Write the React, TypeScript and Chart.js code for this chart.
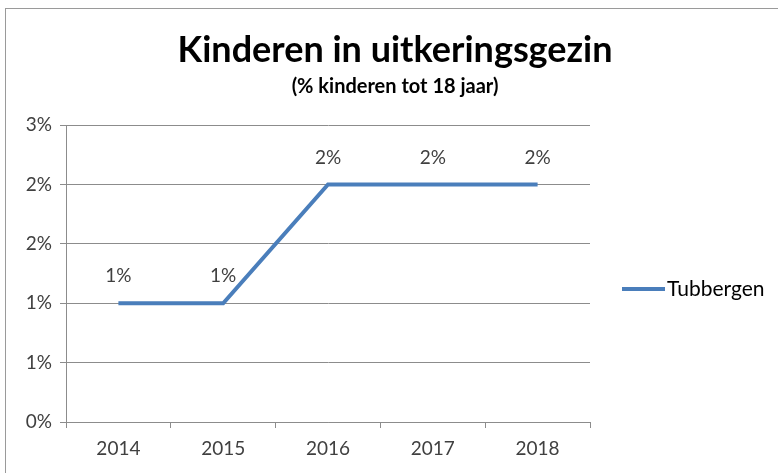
import React, { useEffect, useRef } from "react";
import { Chart, registerables } from "chart.js";

Chart.register(...registerables);

const categories = ["2014", "2015", "2016", "2017", "2018"];
const tubbergen = [1.0, 1.0, 2.0, 2.0, 2.0];
const seriesName = "Tubbergen";
const titleText = "Kinderen in uitkeringsgezin";
const subtitleText = "(% kinderen tot 18 jaar)";
const yMin = 0;
const yMax = 2.5;
const yStep = 0.5;

const FONT = "Lato, 'Open Sans', sans-serif";
const LINE_COLOR = "#4A7EBB";
const TEXT_COLOR = "#404040";
const GRID_COLOR = "#8C8C8C";

const pct = (v: number) => Math.round(v + 1e-9) + "%";

export default function App() {
  const ref = useRef<HTMLCanvasElement | null>(null);

  useEffect(() => {
    if (!ref.current) return;
    const decor = {
      id: "decor",
      afterDraw(chart: any) {
        const ctx = chart.ctx;
        const area = chart.chartArea;
        ctx.save();
        // title
        ctx.fillStyle = "#000";
        ctx.textAlign = "center";
        ctx.textBaseline = "alphabetic";
        ctx.font = `bold 36px ${FONT}`;
        ctx.fillText(titleText, 389, 53);
        ctx.font = `bold 20px ${FONT}`;
        ctx.fillText(subtitleText, 389, 84);
        // data labels
        const meta = chart.getDatasetMeta(0);
        ctx.font = `19px ${FONT}`;
        ctx.fillStyle = TEXT_COLOR;
        ctx.textBaseline = "middle";
        meta.data.forEach((pt: any, i: number) => {
          ctx.fillText(pct(tubbergen[i]), pt.x, pt.y - 27);
        });
        // legend
        const ly = 280;
        const lx = area.right + 32;
        ctx.strokeStyle = LINE_COLOR;
        ctx.lineWidth = 4;
        ctx.beginPath();
        ctx.moveTo(lx, ly);
        ctx.lineTo(lx + 43, ly);
        ctx.stroke();
        ctx.textAlign = "left";
        ctx.fillStyle = "#000";
        ctx.font = `21px ${FONT}`;
        ctx.fillText(seriesName, lx + 45, ly);
        ctx.restore();
      },
    };

    const chart = new Chart(ref.current, {
      type: "line",
      data: {
        labels: categories,
        datasets: [
          {
            label: seriesName,
            data: tubbergen,
            borderColor: LINE_COLOR,
            backgroundColor: LINE_COLOR,
            borderWidth: 4,
            pointRadius: 0,
            tension: 0,
            borderCapStyle: "butt",
          },
        ],
      },
      options: {
        animation: false,
        responsive: false,
        maintainAspectRatio: false,
        layout: { padding: { top: 116, right: 188, left: 0, bottom: 0 } },
        plugins: {
          legend: { display: false },
          title: { display: false },
          tooltip: { enabled: false },
        },
        scales: {
          x: {
            type: "category",
            offset: true,
            afterFit(scale: any) {
              scale.height = 51;
            },
            grid: {
              offset: true,
              drawOnChartArea: false,
              drawTicks: true,
              tickLength: 6,
              color: GRID_COLOR,
            },
            border: { color: GRID_COLOR, width: 1 },
            ticks: {
              color: TEXT_COLOR,
              font: { family: FONT, size: 19 },
              padding: 9,
              maxRotation: 0,
            },
          },
          y: {
            min: yMin,
            max: yMax,
            afterFit(scale: any) {
              scale.width = 60;
            },
            grid: {
              color: GRID_COLOR,
              drawTicks: true,
              tickLength: 6,
            },
            border: { color: GRID_COLOR, width: 1 },
            ticks: {
              stepSize: yStep,
              color: TEXT_COLOR,
              font: { family: FONT, size: 19 },
              padding: 8,
              callback: (v: any) => pct(Number(v)),
            },
          },
        },
      },
      plugins: [decor],
    });
    return () => chart.destroy();
  }, []);

  return (
    <div
      style={{
        position: "fixed",
        left: 0,
        top: 0,
        width: 778,
        height: 473,
        overflow: "hidden",
        background: "#fff",
      }}
    >
      <div
        style={{
          position: "absolute",
          left: 5,
          top: 8,
          width: 773,
          height: 465,
          borderLeft: "1px solid #9a9a9a",
          borderTop: "1px solid #9a9a9a",
        }}
      >
        <canvas ref={ref} width={772} height={464} style={{ display: "block" }} />
      </div>
    </div>
  );
}
